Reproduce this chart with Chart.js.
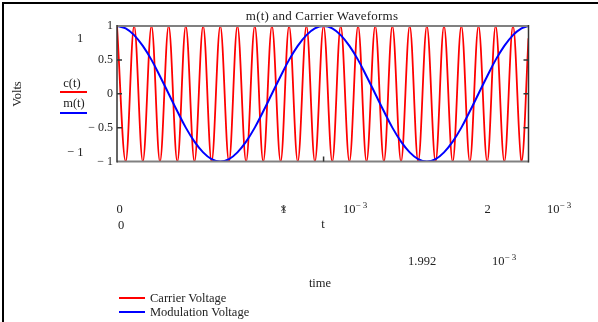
<!DOCTYPE html>
<html>
<head>
<meta charset="utf-8">
<script src="https://cdn.jsdelivr.net/npm/chart.js@4.4.0/dist/chart.umd.min.js"></script>
<style>
  body { margin: 0; background: #fff; }
  #wrap { position: relative; width: 598px; height: 322px; font-family: "Liberation Serif", serif; color: #222; overflow: hidden; }
  #frame { position: absolute; left: 2px; top: 2px; right: 0; bottom: 0; border-left: 2px solid #000; border-top: 2px solid #000; }
  canvas { position: absolute; left: 0; top: 0; }
  .t { position: absolute; font-size: 12.5px; line-height: 13px; white-space: nowrap; transform: translate(-50%, -50%); }
  .t.l { transform: translate(0, -50%); }
  .t sup { font-size: 9px; line-height: 0; vertical-align: 5px; }
  .key { position: absolute; height: 2px; }
</style>
</head>
<body>
<div id="wrap">
  <div id="frame"></div>
  <canvas id="waveChart" width="598" height="322"></canvas>

  <div class="t" style="left:322px; top:15px; font-size:13px; letter-spacing:0.2px;">m(t) and Carrier Waveforms</div>
  <div class="t" style="left:17px; top:94px; transform:translate(-50%,-50%) rotate(-90deg);">Volts</div>

  <div class="t" style="left:80px; top:38px;">1</div>
  <div class="t l" style="left:67px; top:152px;">− 1</div>
  <div class="t" style="left:72px; top:83px;">c(t)</div>
  <div class="key" style="left:60px; top:91px; width:27px; background:#f00;"></div>
  <div class="t" style="left:74px; top:103px;">m(t)</div>
  <div class="key" style="left:60px; top:112px; width:27px; background:#00f;"></div>

  <div class="t" style="left:119.5px; top:209px;">0</div>
  <div class="t" style="left:283.5px; top:209px;">1</div>
  <div class="t" style="left:283.5px; top:209px;">×</div>
  <div class="t l" style="left:343px; top:209px;">10<sup>− 3</sup></div>
  <div class="t" style="left:487.5px; top:209px;">2</div>
  <div class="t l" style="left:547px; top:209px;">10<sup>− 3</sup></div>
  <div class="t" style="left:121px; top:225px;">0</div>
  <div class="t" style="left:323px; top:224px;">t</div>
  <div class="t l" style="left:408px; top:261px;">1.992</div>
  <div class="t l" style="left:492px; top:261px;">10<sup>− 3</sup></div>
  <div class="t" style="left:320px; top:283px;">time</div>

  <div class="key" style="left:119px; top:297px; width:26px; background:#f00;"></div>
  <div class="t l" style="left:150px; top:298px;">Carrier Voltage</div>
  <div class="key" style="left:119px; top:311px; width:26px; background:#00f;"></div>
  <div class="t l" style="left:150px; top:312px;">Modulation Voltage</div>
</div>

<script>
// time in ms (the picture's axis runs 0 .. 1.992 x 10^-3 s)
const timeMs = [
  0, 0.042, 0.083, 0.125, 0.167, 0.208, 0.25, 0.292, 0.333, 0.375, 0.417, 0.458,
  0.5, 0.542, 0.583, 0.625, 0.667, 0.708, 0.75, 0.792, 0.833, 0.875, 0.917, 0.958,
  1.0, 1.042, 1.083, 1.125, 1.167, 1.208, 1.25, 1.292, 1.333, 1.375, 1.417, 1.458,
  1.5, 1.542, 1.583, 1.625, 1.667, 1.708, 1.75, 1.792, 1.833, 1.875, 1.917, 1.958,
  1.992
];

// c(t): carrier peaks and troughs
const carrier = [
  1, -1, 1, -1, 1, -1, 1, -1, 1, -1, 1, -1,
  1, -1, 1, -1, 1, -1, 1, -1, 1, -1, 1, -1,
  1, -1, 1, -1, 1, -1, 1, -1, 1, -1, 1, -1,
  1, -1, 1, -1, 1, -1, 1, -1, 1, -1, 1, -1,
  0.82
];

// m(t): modulation
const modulation = [
  1, 0.966, 0.866, 0.707, 0.5, 0.259, 0, -0.259, -0.5, -0.707, -0.866, -0.966,
  -1, -0.966, -0.866, -0.707, -0.5, -0.259, 0, 0.259, 0.5, 0.707, 0.866, 0.966,
  1, 0.966, 0.866, 0.707, 0.5, 0.259, 0, -0.259, -0.5, -0.707, -0.866, -0.966,
  -1, -0.966, -0.866, -0.707, -0.5, -0.259, 0, 0.259, 0.5, 0.707, 0.866, 0.966,
  0.999
];

const yTicks = [-1, -0.5, 0, 0.5, 1];
const xTicks = [1];
const xMin = 0, xMax = 1.992;

const toPoints = (ys) => ys.map((v, i) => ({ x: timeMs[i], y: v }));

// plot box: grey top/bottom rules, dark sides, small inner ticks
const plotFrame = {
  id: "plotFrame",
  afterDatasetsDraw(chart) {
    const { ctx, chartArea: a, scales } = chart;
    ctx.save();
    ctx.strokeStyle = "#808080";
    ctx.lineWidth = 2;
    ctx.beginPath();
    ctx.moveTo(a.left, a.top); ctx.lineTo(a.right, a.top);
    ctx.moveTo(a.left, a.bottom); ctx.lineTo(a.right, a.bottom);
    ctx.stroke();

    ctx.strokeStyle = "#333";
    ctx.lineWidth = 1.5;
    ctx.beginPath();
    ctx.moveTo(a.left, a.top - 1); ctx.lineTo(a.left, a.bottom + 1);
    ctx.moveTo(a.right, a.top - 1); ctx.lineTo(a.right, a.bottom + 1);
    yTicks.filter(v => v > -1 && v < 1).forEach(v => {
      const py = scales.y.getPixelForValue(v);
      ctx.moveTo(a.left, py); ctx.lineTo(a.left + 5, py);
      ctx.moveTo(a.right, py); ctx.lineTo(a.right - 5, py);
    });
    xTicks.forEach(v => {
      const px = scales.x.getPixelForValue(v);
      ctx.moveTo(px, a.bottom); ctx.lineTo(px, a.bottom - 5);
    });
    ctx.stroke();
    ctx.restore();
  }
};

const ctx = document.getElementById("waveChart").getContext("2d");
new Chart(ctx, {
  type: "line",
  data: {
    datasets: [
      {
        label: "Modulation Voltage",
        data: toPoints(modulation),
        borderColor: "#0000ff",
        borderWidth: 2,
        pointRadius: 0,
        tension: 0.4,
        order: 0,
      },
      {
        label: "Carrier Voltage",
        data: toPoints(carrier),
        borderColor: "#ff0000",
        borderWidth: 1.8,
        pointRadius: 0,
        tension: 0.36,
        order: 1,
      },
    ],
  },
  options: {
    responsive: false,
    animation: false,
    layout: { padding: { left: 0, top: 26, right: 69.5, bottom: 160.5 } },
    plugins: { legend: { display: false }, tooltip: { enabled: false } },
    scales: {
      x: { type: "linear", min: xMin, max: xMax, display: false },
      y: {
        min: -1,
        max: 1,
        grid: { display: false, drawTicks: false },
        border: { display: false },
        afterBuildTicks: (scale) => { scale.ticks = yTicks.map(v => ({ value: v })); },
        afterFit: (scale) => { scale.width = 117; },
        ticks: {
          padding: 4,
          color: "#222",
          font: { family: "Liberation Serif", size: 12 },
          callback: (v) => (v < 0 ? "− " + Math.abs(v) : String(v)),
        },
      },
    },
  },
  plugins: [plotFrame],
});
</script>
</body>
</html>
